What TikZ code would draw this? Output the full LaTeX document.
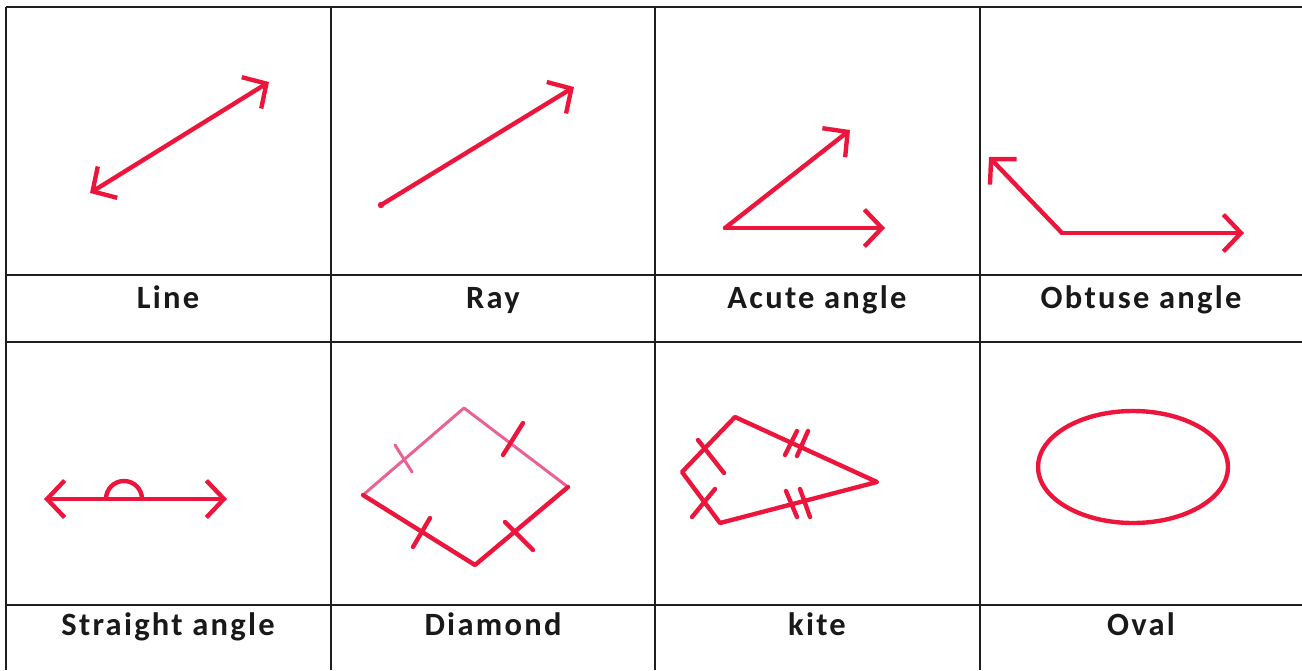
\documentclass[tikz,border=0pt]{standalone}
\usepackage{fontspec}
\usepackage{tikz}
\usepackage{xcolor}
\usetikzlibrary{arrows.meta}
\newfontfamily\labelfont[LetterSpace=7]{Carlito}
\definecolor{ink}{RGB}{236,22,60}
\definecolor{pinkink}{RGB}{232,98,150}
\definecolor{rule}{RGB}{30,30,30}

\begin{document}
\begin{tikzpicture}[
    x=0.02cm, y=-0.02cm,
    grid/.style={rule, line width=1.2pt},
    pen/.style={ink, line width=2.5pt, line cap=round, line join=round},
    thinpen/.style={pinkink, line width=1.7pt, line cap=round, line join=round},
    hand/.style={arrows={-Straight Barb[length=10pt, width=21pt]}},
    handboth/.style={arrows={Straight Barb[length=10pt, width=21pt]-Straight Barb[length=10pt, width=21pt]}},
    lbl/.style={anchor=base, text=black!90, font=\labelfont\bfseries\fontsize{18.5}{22}\selectfont}
]
    \useasboundingbox (0,0) rectangle (1302,670);

    % Table
    \draw[grid] (6,7) -- (1302,7);
    \draw[grid] (6,275) -- (1302,275);
    \draw[grid] (6,342) -- (1302,342);
    \draw[grid] (6,605) -- (1302,605);
    \draw[grid] (6,7) -- (6,670);
    \draw[grid] (331,7) -- (331,670);
    \draw[grid] (655,7) -- (655,670);
    \draw[grid] (980,7) -- (980,670);

    % Coordinates
    \coordinate (ln_a)   at (90,193);
    \coordinate (ln_b)   at (269,82);
    \coordinate (ray_o)  at (381,205);
    \coordinate (ray_t)  at (574,87);
    \coordinate (ac_v)   at (725,228);
    \coordinate (ac_up)  at (850,130);
    \coordinate (ac_rt)  at (885,228);
    \coordinate (ob_v)   at (1062,233);
    \coordinate (ob_up)  at (989,157);
    \coordinate (ob_rt)  at (1244,233);
    \coordinate (st_l)   at (44,499);
    \coordinate (st_r)   at (227,499);
    \coordinate (st_arc) at (106,499);
    \coordinate (dm_t)   at (464,408);
    \coordinate (dm_r)   at (568,487);
    \coordinate (dm_b)   at (475,565);
    \coordinate (dm_l)   at (363,495);
    \coordinate (kt_t)   at (735,417);
    \coordinate (kt_l)   at (682,472);
    \coordinate (kt_b)   at (720,523);
    \coordinate (kt_r)   at (877,482);
    \coordinate (ov_c)   at (1133,467);

    % Row 1 (lines, ray, angles)
    \draw[pen, handboth] (ln_a) -- (ln_b);
    \draw[pen, hand] (ray_o) -- (ray_t);
    \fill[ink] (ray_o) circle (3.2);
    \draw[pen, hand] (ac_v) -- (ac_up);
    \draw[pen, hand] (ac_v) -- (ac_rt);
    \draw[pen, hand] (ob_v) -- (ob_up);
    \draw[pen, hand] (ob_v) -- (ob_rt);

    % Row 2 (straight angle, diamond, kite, oval)
    \draw[pen, handboth] (st_l) -- (st_r);
    \draw[pen] (st_arc) arc[start angle=180, end angle=360, radius=18];

    \draw[thinpen] (dm_l) -- (dm_t) -- (dm_r);
    \draw[pen] (dm_r) -- (dm_b) -- (dm_l);
    \draw[thinpen] (395,445) -- (412,472);
    \draw[pen] (523,423) -- (503,455);
    \draw[pen] (430,518) -- (413,547);
    \draw[pen] (505,522) -- (533,550);

    \draw[pen] (kt_t) -- (kt_r) -- (kt_b) -- (kt_l) -- cycle;
    \draw[pen] (698,440) -- (724,473);
    \draw[pen] (715,489) -- (692,517);
    \draw[pen] (797,431) -- (785,455);
    \draw[pen] (808,431) -- (797,456);
    \draw[pen] (786,491) -- (797,517);
    \draw[pen] (800,489) -- (810,517);

    \draw[pen] (ov_c) ellipse [x radius=95, y radius=56];

    % Labels
    \node[lbl] (lab_line)   at (168,308)  {Line};
    \node[lbl] (lab_ray)    at (493,308)  {Ray};
    \node[lbl] (lab_acute)  at (817,308)  {Acute angle};
    \node[lbl] (lab_obtuse) at (1141,308) {Obtuse angle};
    \node[lbl] (lab_str)    at (168,635)  {Straight angle};
    \node[lbl] (lab_dia)    at (493,635)  {Diamond};
    \node[lbl] (lab_kite)   at (817,635)  {kite};
    \node[lbl] (lab_oval)   at (1141,635) {Oval};

\end{tikzpicture}
\end{document}
